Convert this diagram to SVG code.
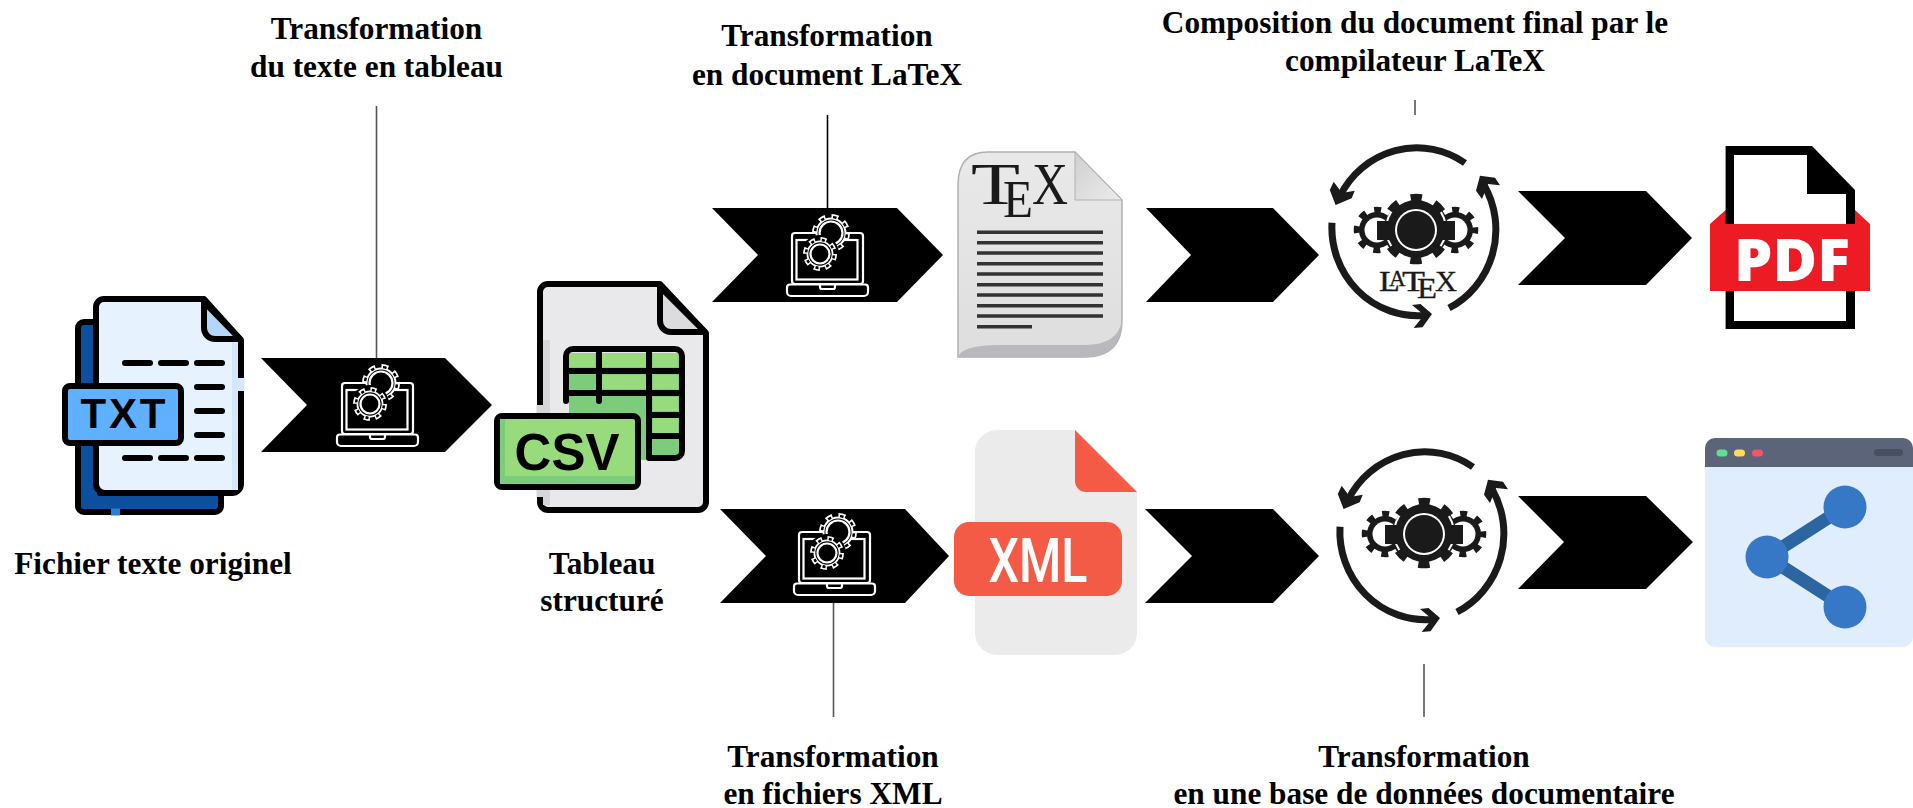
<svg xmlns="http://www.w3.org/2000/svg" width="1913" height="808" viewBox="0 0 1913 808">
<style>
.lab{font-family:"Liberation Serif",serif;font-weight:700;font-size:31.300px;fill:#000;text-anchor:middle}
.chev{fill:#000}
.conn{stroke:#555;stroke-width:1.6;fill:none}
.k{stroke:#000;stroke-width:6;stroke-linecap:round;stroke-linejoin:round}
.arc{stroke:#1a1a1a;stroke-width:7;fill:none}
.wl{stroke:#fff;stroke-width:2.200}
.ui{font-family:"Liberation Sans",sans-serif;font-weight:700;text-anchor:middle}
.tex{font-family:"Liberation Serif",serif;fill:#1a1a1a}
</style>
<defs>
<g id="laptop">
<rect x="792" y="233" width="71" height="51" rx="3" class="wl" fill="none"/>
<rect x="796.500" y="240" width="61" height="39.500" class="wl" fill="none"/>
<path d="M790 284.500H865a3 3 0 0 1 3 3V292a4 4 0 0 1-4 4H791a4 4 0 0 1-4-4V287.500a3 3 0 0 1 3-3Z" class="wl" fill="#000"/>
<path d="M820 285v2a2 2 0 0 0 2 2h11a2 2 0 0 0 2-2v-2" class="wl" fill="none"/>
<g>
<circle cx="831" cy="233" r="15.500" fill="#fff"/><circle cx="831" cy="233" r="17" fill="none" stroke="#fff" stroke-width="4" stroke-dasharray="7 6.350"/>
<circle cx="831" cy="233" r="13.500" fill="#000"/><circle cx="831" cy="233" r="16" fill="none" stroke="#000" stroke-width="2.500" stroke-dasharray="3.500 9.070" stroke-dashoffset="-1.550"/>
<circle cx="831" cy="233" r="11.500" class="wl" fill="none"/>
</g>
<g>
<circle cx="820" cy="254" r="19" fill="#000"/>
<circle cx="820" cy="254" r="13.500" fill="#fff"/><circle cx="820" cy="254" r="15" fill="none" stroke="#fff" stroke-width="4" stroke-dasharray="6.200 5.580"/>
<circle cx="820" cy="254" r="11.700" fill="#000"/><circle cx="820" cy="254" r="14" fill="none" stroke="#000" stroke-width="2.500" stroke-dasharray="3 7.995" stroke-dashoffset="-1.400"/>
<circle cx="820" cy="254" r="9.500" class="wl" fill="none"/>
</g>
</g>
<g id="cycle">
<path class="arc" d="M1465 163A86 88 0 0 0 1340 196"/>
<path d="M1333.700 181.700L1342 193L1354.700 190.700L1351.700 198.300L1335.600 205L1329.800 190Z" fill="#1a1a1a"/>
<path class="arc" d="M1332 222.700A86 88 0 0 0 1424 315.500"/>
<path d="M1412 305L1420.500 304L1432 314L1422.500 327.300L1413.700 328L1424 315Z" fill="#1a1a1a"/>
<path class="arc" d="M1449 308A86 88 0 0 0 1484 185"/>
<path d="M1480 175.700L1495 177.700L1500 185.300L1488 184L1482 199L1476 190.700Z" fill="#1a1a1a"/>
<g fill="#1a1a1a">
<circle cx="1377" cy="230" r="18"/><circle cx="1377" cy="230" r="20" fill="none" stroke="#1a1a1a" stroke-width="6.500" stroke-dasharray="7 8.710" stroke-dashoffset="3.500"/>
<circle cx="1455" cy="230" r="18"/><circle cx="1455" cy="230" r="20" fill="none" stroke="#1a1a1a" stroke-width="6.500" stroke-dasharray="7 8.710" stroke-dashoffset="3.500"/>
<circle cx="1377" cy="230" r="12.500" fill="#fff"/><circle cx="1455" cy="230" r="12.500" fill="#fff"/>
<circle cx="1416" cy="229" r="31" fill="#fff"/>
<rect x="1377" y="221" width="78" height="19"/>
<circle cx="1416" cy="229" r="29"/><circle cx="1416" cy="229" r="31" fill="none" stroke="#1a1a1a" stroke-width="8.500" stroke-dasharray="11 13.350" stroke-dashoffset="5.500"/>
<circle cx="1416" cy="230" r="21" fill="#fff"/><circle cx="1416" cy="230" r="19"/>
</g>
</g>
<linearGradient id="texpage" x1="0" y1="0" x2="0" y2="1"><stop offset="0" stop-color="#e9e9e9"/><stop offset="1" stop-color="#dedede"/></linearGradient>
<linearGradient id="texfold" x1="0" y1="0" x2="1" y2="1"><stop offset="0" stop-color="#cfcfcf"/><stop offset="1" stop-color="#ececec"/></linearGradient>
</defs>

<g id="connectors">
<line class="conn" x1="376.500" y1="106" x2="376.500" y2="364"/>
<line class="conn" x1="827.500" y1="115" x2="827.500" y2="214" style="stroke:#000"/>
<line class="conn" x1="833.500" y1="598" x2="833.500" y2="717"/>
<line class="conn" x1="1424" y1="664" x2="1424" y2="717"/>
<line class="conn" x1="1415" y1="100" x2="1415" y2="115"/>
<path class="chev" d="M261 358H445L492 405L445 452H261L307 405Z"/>
<path class="chev" d="M712 208H897L943 255L897 302H712L758 255Z"/>
<path class="chev" d="M720 509H905L949 556L905 603H720L766 556Z"/>
<path class="chev" d="M1146 208H1273L1319 255L1273 302H1146L1191 255Z"/>
<path class="chev" d="M1145 509H1273L1319 556L1273 603H1145L1192 556Z"/>
<path class="chev" d="M1518 191H1646L1692 238L1646 285H1518L1565 238Z"/>
<path class="chev" d="M1518 496H1646L1693 542L1646 589H1518L1564 542Z"/>
</g>

<g id="node-process-1"><use href="#laptop" x="-450" y="150"/></g>
<g id="node-process-2"><use href="#laptop"/></g>
<g id="node-process-3"><use href="#laptop" x="7" y="299"/></g>

<g id="node-txt">
<path d="M84 322H100V493H221V506a6 6 0 0 1-6 6H84a6 6 0 0 1-6-6V328a6 6 0 0 1 6-6Z" fill="#0b4f9e" class="k"/>
<path d="M111 512H120" stroke="#2a7fd0" stroke-width="7"/>
<path d="M104 299H204L241 340V484a9 9 0 0 1-9 9H105a9 9 0 0 1-9-9V307a8 8 0 0 1 8-8Z" fill="#e6f3fe" stroke="#000" stroke-width="6" stroke-linejoin="round"/>
<path d="M232 341H238V490H232Z" fill="#d5e8fb"/>
<path d="M241 378V391" stroke="#d5e8fb" stroke-width="7"/>
<path d="M204 302V328a11 11 0 0 0 11 11H240Z" fill="#b3d7fb" class="k"/>
<path class="k" fill="none" d="M125 363H150M161 363H186M197 363H222M197 387H222M197 411H222M197 435H222M125 458H150M161 458H186M197 458H222"/>
<rect x="65" y="386" width="116" height="57" rx="5" fill="#5fb0ff" stroke="#000" stroke-width="6"/>
<text class="ui" x="123" y="428" font-size="42" textLength="85" lengthAdjust="spacing">TXT</text>
</g>

<g id="node-csv">
<path d="M547 284H660L706 333V502a8 8 0 0 1-8 8H548a8 8 0 0 1-8-8V292a8 8 0 0 1 8-8Z" fill="#e9e8ea" stroke="#000" stroke-width="6" stroke-linejoin="round"/>
<path d="M543 340H550V505H543Z" fill="#d6d5d9"/>
<path d="M540 405V416M540 487V497" stroke="#d6d5d9" stroke-width="7"/>
<path d="M660 287V321a11 11 0 0 0 11 11H705Z" fill="#dcdbde" class="k"/>
<rect x="569" y="353" width="110" height="104" fill="#7ccc7c"/>
<rect x="569" y="400" width="81" height="60" fill="#7ccc7c"/>
<g fill="#98db7c"><rect x="569" y="353" width="26" height="14"/><rect x="602" y="353" width="44" height="14"/><rect x="653" y="353" width="25" height="14"/><rect x="602" y="375" width="44" height="14"/><rect x="653" y="375" width="25" height="14"/><rect x="653" y="397" width="25" height="14"/><rect x="653" y="418" width="25" height="15"/></g>
<path class="k" fill="none" d="M566 401V356a7 7 0 0 1 7-7H675a7 7 0 0 1 7 7V451a7 7 0 0 1-7 7H649V350M569 371H680M569 393H680M599 350V401M650 415H680M650 436H680"/>
<rect x="497" y="416" width="141" height="71" rx="5" fill="#98db7c" stroke="#000" stroke-width="6"/>
<path d="M500 419H505V476H635V484H500Z" fill="#7ccc7c"/>
<text class="ui" x="567" y="470" font-size="51">CSV</text>
</g>

<g id="node-tex">
<path d="M958 185Q958 152 988 152H1075L1122 200V320Q1122 357 1085 357H958Z" fill="url(#texpage)" stroke="#b0b0b0" stroke-width="1.500"/>
<path d="M1075 152V200H1122Z" fill="url(#texfold)" stroke="#b0b0b0"/>
<path d="M958 357Q962 345 1000 345H1085Q1118 345 1122 320Q1122 357 1085 357Z" fill="#b9b9bd"/>
<text class="tex" y="204" font-size="59"><tspan x="971" textLength="49" lengthAdjust="spacingAndGlyphs">T</tspan><tspan x="1003" y="217" font-size="53" textLength="30" lengthAdjust="spacingAndGlyphs">E</tspan><tspan x="1032" y="204" textLength="36" lengthAdjust="spacingAndGlyphs">X</tspan></text>
<path d="M977 232.300H1103M977 242.700H1103M977 253H1103M977 263.700H1103M977 274H1103M977 284.700H1103M977 295H1103M977 305.700H1103M977 316H1103M977 326.700H1032" stroke="#333" stroke-width="3.500"/>
</g>

<g id="node-xml">
<path d="M997 430H1075L1137 492V633a22 22 0 0 1-22 22H997a22 22 0 0 1-22-22V452a22 22 0 0 1 22-22Z" fill="#ebebeb"/>
<path d="M1075 430V481a11 11 0 0 0 11 11H1137Z" fill="#f45b47"/>
<rect x="954" y="522" width="168" height="74" rx="15" fill="#f45b47"/>
<text x="1038" y="582" font-size="62" fill="#fff" font-family="Roboto, sans-serif" font-weight="500" text-anchor="middle" textLength="99" lengthAdjust="spacingAndGlyphs">XML</text>
</g>

<g id="node-latex-compile">
<use href="#cycle"/>
<text class="tex" y="291" font-size="30" stroke="#1a1a1a" stroke-width=".3"><tspan x="1379" textLength="21" lengthAdjust="spacingAndGlyphs">L</tspan><tspan x="1389" y="286" font-size="23">A</tspan><tspan x="1402" y="291" textLength="23" lengthAdjust="spacingAndGlyphs">T</tspan><tspan x="1417" y="298" font-size="30" textLength="20" lengthAdjust="spacingAndGlyphs">E</tspan><tspan x="1435" y="291" textLength="22" lengthAdjust="spacingAndGlyphs">X</tspan></text>
</g>
<g id="node-db-transform"><use href="#cycle" x="8" y="304"/></g>

<g id="node-pdf">
<path d="M1725.600 210L1710 224H1870L1855 210Z" fill="#ed1c24"/>
<path d="M1725.600 146H1812L1855 190V329H1725.600Z" fill="#000"/>
<path d="M1734 155H1807V194H1846V321H1734Z" fill="#fff"/>
<rect x="1710" y="224" width="160" height="67" fill="#ed1c24"/>
<text x="1792" y="281" font-size="58" fill="#fff" font-family="'Open Sans', sans-serif" font-weight="800" text-anchor="middle" textLength="116" lengthAdjust="spacingAndGlyphs">PDF</text>
</g>

<g id="node-web">
<path d="M1715 438H1903a10 10 0 0 1 10 10V637a10 10 0 0 1-10 10H1715a10 10 0 0 1-10-10V448a10 10 0 0 1 10-10Z" fill="#e0edfc"/>
<path d="M1715 438H1903a10 10 0 0 1 10 10V467H1705V448a10 10 0 0 1 10-10Z" fill="#5c6479"/>
<rect x="1716.500" y="449.500" width="11" height="7" rx="3.500" fill="#5fdf8f"/>
<rect x="1734" y="449.500" width="11" height="7" rx="3.500" fill="#ffd95a"/>
<rect x="1752" y="449.500" width="11" height="7" rx="3.500" fill="#f2546a"/>
<rect x="1874" y="449" width="29" height="7" rx="3.500" fill="#474f61"/>
<path d="M1845 507L1767 557L1845 607" fill="none" stroke="#2c659f" stroke-width="13"/>
<circle cx="1845" cy="507" r="21.500" fill="#3778c6"/>
<circle cx="1767" cy="557" r="21.500" fill="#3778c6"/>
<circle cx="1845" cy="607" r="21.500" fill="#3778c6"/>
</g>

<g id="labels">
<text class="lab" x="376.500" y="39">Transformation</text>
<text class="lab" x="376.500" y="77">du texte en tableau</text>
<text class="lab" x="827" y="46">Transformation</text>
<text class="lab" x="827" y="85">en document LaTeX</text>
<text class="lab" x="1415" y="33">Composition du document final par le</text>
<text class="lab" x="1415" y="71">compilateur LaTeX</text>
<text class="lab" x="153" y="574">Fichier texte originel</text>
<text class="lab" x="602" y="574">Tableau</text>
<text class="lab" x="602" y="611">structuré</text>
<text class="lab" x="833" y="767">Transformation</text>
<text class="lab" x="833" y="804">en fichiers XML</text>
<text class="lab" x="1424" y="767">Transformation</text>
<text class="lab" x="1424" y="804">en une base de données documentaire</text>
</g>
</svg>
